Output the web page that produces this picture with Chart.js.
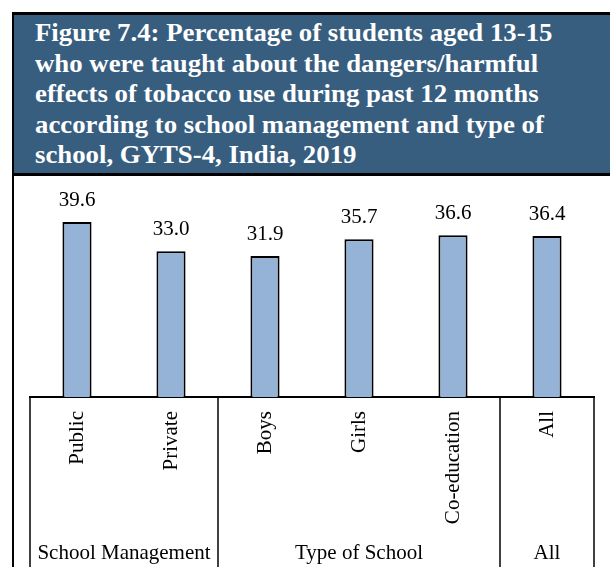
<!DOCTYPE html>
<html>
<head>
<meta charset="utf-8">
<script src="https://cdn.jsdelivr.net/npm/chart.js@4.4.0/dist/chart.umd.min.js"></script>
<style>
    html, body { margin: 0; padding: 0; background: #fff; }
    #frame {
        position: absolute; left: 12px; top: 12px; width: 598px; height: 555px;
        border-left: 2px solid #000; border-top: 3px solid #000; box-sizing: border-box;
    }
    #title {
        height: 161px; box-sizing: border-box; background: #385e7f;
        border-bottom: 3px solid #000; color: #fff; overflow: hidden;
        font: bold 26px "Liberation Serif", "Times New Roman", serif;
        line-height: 30.5px; padding: 3px 0 0 21px; white-space: nowrap;
    }
    #title span { display: inline-block; transform: scaleX(1.03); transform-origin: left top; }
    #wrap { position: absolute; left: 0; top: 0; width: 610px; height: 567px; }
</style>
</head>
<body>
<div id="frame">
    <div id="title"><span>Figure 7.4: Percentage of students aged 13-15<br>who were taught about the dangers/harmful<br>effects of tobacco use during past 12 months<br>according to school management and type of<br>school, GYTS-4, India, 2019</span></div>
</div>
<div id="wrap"><canvas id="chart"></canvas></div>
<script>
const categories = ['Public', 'Private', 'Boys', 'Girls', 'Co-education', 'All'];
const values = [39.6, 33.0, 31.9, 35.7, 36.6, 36.4];
// groups under the axis: label, first and last category index
const groupLabels = ['School Management', 'Type of School', 'All'];
const groupStart = [0, 2, 5];
const groupEnd = [1, 4, 5];

const serif = '"Liberation Serif", "Times New Roman", serif';

const groupsPlugin = {
    id: 'groups',
    afterDraw(chart) {
        const ctx = chart.ctx;
        const x = chart.scales.x;
        const top = chart.chartArea.bottom;
        const bottom = chart.height;
        ctx.save();
        ctx.strokeStyle = '#000';
        ctx.lineWidth = 1.5;
        const edges = [groupStart[0] - 0.5].concat(groupEnd.map(e => e + 0.5));
        edges.forEach(e => {
            const px = x.getPixelForValue(e);
            ctx.beginPath();
            ctx.moveTo(px, top);
            ctx.lineTo(px, bottom);
            ctx.stroke();
        });
        ctx.fillStyle = '#000';
        ctx.font = '21px ' + serif;
        ctx.textAlign = 'center';
        ctx.textBaseline = 'middle';
        groupLabels.forEach((g, i) => {
            const l = x.getPixelForValue(groupStart[i] - 0.5);
            const r = x.getPixelForValue(groupEnd[i] + 0.5);
            ctx.fillText(g, (l + r) / 2, 553);
        });
        ctx.restore();
    }
};

const valueLabels = {
    id: 'valueLabels',
    afterDatasetsDraw(chart) {
        const ctx = chart.ctx;
        const meta = chart.getDatasetMeta(0);
        ctx.save();
        ctx.fillStyle = '#000';
        ctx.font = '21px ' + serif;
        ctx.textAlign = 'center';
        ctx.textBaseline = 'alphabetic';
        meta.data.forEach((bar, i) => {
            ctx.fillText(values[i].toFixed(1), bar.x, bar.y - 16);
        });
        ctx.restore();
    }
};

const ctx = document.getElementById('chart').getContext('2d');
const chart = new Chart(ctx, {
    type: 'bar',
    data: {
        labels: categories,
        datasets: [{
            data: values,
            backgroundColor: '#95b3d7',
            borderColor: '#000',
            borderWidth: 2,
            borderSkipped: 'bottom',
            barPercentage: 0.31,
            categoryPercentage: 1
        }]
    },
    options: {
        responsive: true,
        maintainAspectRatio: false,
        animation: false,
        layout: { padding: { top: 176, left: 30, right: 16, bottom: 0 } },
        scales: {
            x: {
                grid: { display: false, drawTicks: false },
                border: { display: true, color: '#000', width: 2 },
                ticks: {
                    color: '#000',
                    font: { family: serif, size: 21 },
                    minRotation: 90,
                    maxRotation: 90,
                    padding: 14
                },
                afterFit(scale) { scale.height = 170; }
            },
            y: {
                display: false,
                min: 0,
                max: 50
            }
        },
        plugins: {
            legend: { display: false },
            tooltip: { enabled: false }
        }
    },
    plugins: [groupsPlugin, valueLabels]
});
</script>
</body>
</html>
